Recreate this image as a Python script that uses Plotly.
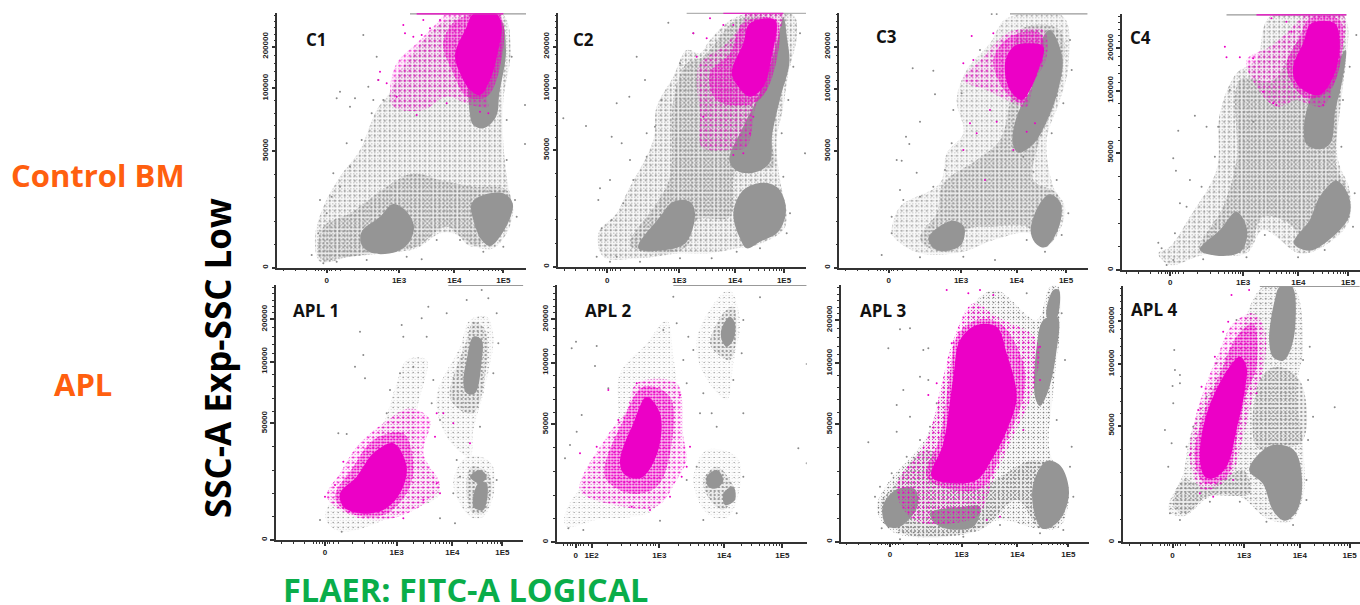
import math
import plotly.graph_objects as go

W, H = 1360, 605
GRAY, MAG = "#959595", "#ec00c6"

# Population outlines and sparse events in acquisition channels.
# Each outline is a list of (x channel, y channel); one panel may have several outlines.
C1_SPARSE = [[(225,715),(250,620),(300,530),(360,450),(410,330),(455,270),(470,230),(560,110),(620,60),(700,45),(790,45),(812,150),(790,300),(790,430),(805,560),(820,630),(800,700),(760,745),(720,745),(640,700),(600,700),(530,745),(430,760),(330,770),(240,785)]]
C1_MID = [[(250,680),(330,640),(440,560),(520,520),(600,540),(700,560),(800,570),(810,640),(700,740),(620,680),(530,740),(430,755),(330,770),(240,775)]]
C1_CORE = [[(365,695),(420,650),(460,612),(500,635),(522,680),(505,730),(470,755),(400,760),(365,735)],
           [(695,610),(730,585),(790,580),(818,610),(810,655),(780,710),(750,738),(725,720),(700,660)],
           [(690,345),(700,120),(780,60),(798,150),(778,280),(768,350),(730,385),(700,375)]]
C1_MAG_SPARSE = [[(450,270),(470,190),(530,130),(590,70),(620,42),(780,42),(790,80),(775,200),(740,290),(745,320),(690,315),(620,290),(550,330),(460,320)]]
C1_MAG_MID = [[(610,130),(650,60),(780,50),(780,200),(740,290),(680,290),(640,220)]]
C1_MAG_CORE = [[(645,165),(680,80),(700,42),(770,42),(785,80),(775,150),(750,240),(720,285),(690,270),(660,220)]]
C1_DOTS = [(370,105),(300,275),(290,295),(385,260),(345,295),(330,320),(855,315),(855,432),(215,765),(545,778),(415,240),(410,170),(240,600),(280,520),(320,430),(400,300),(235,700),(260,640),(275,590),(300,560),(330,500),(365,420),(395,340),(430,300),(815,170),(800,360),(800,480),(825,600),(830,650),(790,740),(730,755),(660,720),(590,720),(500,770),(380,780),(290,785),(250,790)]
C1_MAG_DOTS = [(490,75),(495,100),(520,110),(545,105),(550,60),(570,85),(420,215),(440,250),(470,290),(530,345),(620,310),(720,335),(745,340),(600,60),(415,240)]
C1_TOP = [(510,858)]
C1_MAG_TOP = [(530,790)]

C2_SPARSE = [[(205,700),(260,640),(290,580),(370,420),(380,320),(430,230),(470,150),(510,160),(540,120),(620,50),(790,45),(800,110),(775,220),(760,320),(740,420),(750,540),(770,640),(760,690),(680,735),(620,745),(540,760),(450,760),(330,775),(220,770)]]
C2_MID = [[(300,735),(380,610),(420,530),(430,300),(470,190),(520,170),(620,60),(720,60),(720,400),(730,500),(620,510),(600,650),(500,660),(470,740),(380,760)]]
C2_CORE = [[(325,745),(390,650),(430,605),(480,605),(495,640),(470,725),(420,748)],
           [(610,640),(640,570),(700,548),(745,565),(768,630),(745,695),(690,725),(650,745),(630,715)],
           [(598,480),(640,380),(680,300),(720,200),(745,110),(760,50),(772,120),(778,190),(752,290),(727,400),(718,490),(670,518),(620,512)]]
C2_MAG_SPARSE = [[(500,240),(510,190),(590,130),(640,60),(650,40),(760,40),(735,130),(710,270),(680,310),(650,440),(600,450),(515,440),(510,340)]]
C2_MAG_MID = [[(540,220),(600,160),(640,70),(740,60),(720,250),(670,310),(560,300)]]
C2_MAG_CORE = [[(605,220),(640,130),(660,70),(735,60),(725,170),(700,260),(660,290),(625,260)]]
C2_DOTS = [(100,355),(168,378),(415,68),(260,310),(320,170),(298,290),(345,240),(490,100),(245,410),(275,430),(210,565),(240,540),(200,770),(825,460),(205,600),(300,480),(350,400),(260,770),(215,685),(245,660),(280,610),(310,540),(350,470),(375,380),(395,300),(450,190),(810,100),(790,200),(775,300),(755,400),(760,530),(780,640),(770,700),(690,745),(620,755),(545,775),(450,775),(330,785),(240,785)]
C2_MAG_DOTS = [(490,100),(540,55),(580,75),(610,75),(530,115),(500,170),(640,460),(610,465),(520,350),(660,400),(670,350)]
C2_TOP = [(470,828)]
C2_MAG_TOP = [(580,760)]

C3_SPARSE = [[(215,690),(240,620),(360,550),(380,460),(430,400),(410,300),(440,210),(510,130),(560,55),(730,50),(745,200),(720,300),(680,420),(700,560),(735,620),(715,700),(670,745),(630,700),(520,720),(430,755),(300,760),(220,710)]]
C3_MID = [[(300,715),(350,640),(370,550),(470,480),(540,420),(570,300),(600,90),(720,90),(720,260),(650,450),(640,540),(710,580),(725,630),(700,720),(660,740),(620,680),(520,680),(440,690),(420,745),(340,750)]]
C3_CORE = [[(325,715),(360,678),(400,662),(432,680),(425,732),(385,752),(345,748)],
           [(632,690),(660,610),(690,583),(722,610),(717,680),(675,742),(645,728)],
           [(578,430),(590,350),(640,250),(670,110),(690,90),(727,170),(717,260),(682,360),(640,432),(595,458)]]
C3_MAG_SPARSE = [[(430,240),(490,170),(530,125),(570,95),(670,90),(680,170),(640,250),(620,320),(560,300),(500,270)]]
C3_MAG_MID = [[(520,180),(570,110),(660,100),(670,170),(630,260),(610,310),(560,280)]]
C3_MAG_CORE = [[(555,190),(580,140),(620,130),(670,140),(655,210),(630,270),(605,300),(570,270)]]
C3_DOTS = [(278,205),(340,212),(345,283),(300,365),(258,410),(268,432),(230,480),(245,482),(290,518),(240,570),(215,650),(185,765),(525,780),(515,42),(530,42),(640,515),(610,470),(250,600),(300,590),(340,560),(375,510),(395,430),(400,330),(425,280),(480,150),(750,120),(755,210),(730,310),(695,400),(710,540),(745,640),(725,705),(675,755),(620,720),(430,770),(300,772),(215,700)]
C3_MAG_DOTS = [(455,108),(520,100),(450,370),(470,400),(495,540),(430,450),(430,190),(460,180),(510,330),(530,365),(645,370),(620,395),(580,450)]
C3_TOP = [(570,803)]
C3_MAG_TOP = []

C4_SPARSE = [[(205,760),(240,740),(300,650),(380,510),(390,340),(440,220),(500,180),(540,50),(760,45),(770,180),(745,320),(745,480),(780,570),(775,670),(700,740),(630,760),(520,690),(470,760),(340,765),(240,795)]]
C4_MID = [[(330,750),(400,620),(440,480),(450,240),(550,240),(640,110),(750,110),(740,500),(770,560),(770,670),(640,750),(610,680),(520,650),(470,750)]]
C4_CORE = [[(330,750),(390,690),(440,635),(472,690),(455,752),(400,768)],
           [(612,730),(660,660),(690,590),(740,542),(778,590),(778,650),(720,718),(660,752)],
           [(648,430),(660,300),(730,210),(768,150),(758,240),(737,330),(722,430),(690,448)]]
C4_MAG_SPARSE = [[(470,180),(540,140),(590,100),(650,45),(760,45),(755,170),(730,260),(700,320),(650,310),(620,300),(560,320),(500,260)]]
C4_MAG_MID = [[(590,200),(630,110),(660,55),(750,60),(755,170),(720,270),(650,295)]]
C4_MAG_CORE = [[(610,200),(640,130),(665,70),(735,70),(750,130),(735,220),(690,285),(640,270),(615,240)]]
C4_DOTS = [(265,392),(315,347),(250,475),(258,512),(350,380),(300,540),(270,610),(205,728),(800,105),(490,365),(230,795),(215,745),(255,700),(290,620),(335,560),(375,470),(385,380),(420,270),(780,200),(760,300),(755,440),(795,580),(790,680),(705,750),(625,772),(525,705),(470,772),(340,778),(250,780)]
C4_MAG_DOTS = [(405,140),(410,172),(545,55),(590,65),(605,95),(550,310),(520,275),(490,175),(450,172),(560,315),(700,315),(720,290)]
C4_TOP = [(410,770)]
C4_MAG_TOP = [(500,770)]

A1_SPARSE = [[(255,710),(290,640),(360,540),(430,430),(470,310),(500,240),(560,240),(530,400),(540,520),(600,640),(480,700),(300,755)],
             [(590,350),(660,200),(690,120),(740,110),(760,170),(735,320),(700,450),(690,530),(620,470)],
             [(640,610),(680,530),(750,545),(765,620),(730,710),(690,710)]]
A1_MID = [[(630,350),(680,180),(700,125),(735,150),(735,290),(700,400),(660,390)],
          [(680,600),(695,560),(745,580),(755,630),(730,700),(695,695)]]
A1_CORE = [[(680,240),(700,170),(725,180),(725,240),(705,340),(680,340),(670,310)],
           [(700,680),(715,610),(740,610),(730,690)],
           [(690,590),(720,570),(740,590),(720,610)]]
A1_MAG_SPARSE = [[(260,650),(300,580),(350,500),(430,430),(510,385),(570,420),(550,520),(600,620),(540,680),(430,720),(330,705)]]
A1_MAG_MID = [[(285,650),(340,560),(400,480),(490,460),(520,560),(500,640),(430,705),(320,695)]]
A1_MAG_CORE = [[(300,640),(350,590),(400,520),(460,490),(500,560),(480,640),(430,690),(360,700),(310,680)]]
A1_DOTS = [(360,155),(370,225),(345,260),(375,295),(295,460),(320,462),(485,135),(490,170),(545,115),(565,80),(620,100),(680,60),(725,30),(745,55),(770,100),(240,720),(305,755),(645,730),(600,715),(560,170),(450,330),(440,400),(480,280),(520,260),(580,300),(575,370),(600,420),(775,190),(760,280),(720,440),(640,640),(770,600),(650,540),(660,590)]
A1_MAG_DOTS = [(255,650),(285,615),(310,545),(590,610),(600,640),(590,400),(640,430),(690,490),(585,470),(610,400),(550,660),(490,715)]
A1_TOP = [(625,850)]
A1_MAG_TOP = []

A2_SPARSE = [[(105,700),(180,580),(260,440),(270,280),(350,190),(410,120),(430,230),(440,320),(430,540),(370,690),(200,720),(110,740)],
             [(500,180),(560,60),(600,30),(630,120),(610,250),(590,360),(520,280)],
             [(490,600),(530,510),(620,530),(630,620),(590,715),(530,700)]]
A2_MID = [[(540,190),(580,100),(610,80),(620,160),(600,240),(560,220)],
          [(520,600),(560,560),(600,600),(615,640),(580,690),(540,660)]]
A2_CORE = [[(575,145),(600,110),(615,130),(610,180),(590,200),(575,180)],
           [(530,590),(560,570),(580,600),(560,625),(535,620)],
           [(580,640),(610,620),(615,660),(585,675)]]
A2_MAG_SPARSE = [[(150,630),(230,470),(290,390),(320,310),(440,310),(460,470),(470,540),(440,600),(380,680),(230,670)]]
A2_MAG_MID = [[(225,590),(280,420),(340,320),(420,350),(420,520),(380,620),(300,640)]]
A2_MAG_CORE = [[(270,540),(310,430),(350,350),(390,400),(385,510),(340,590),(310,595),(280,580)]]
A2_DOTS = [(125,205),(138,185),(200,198),(195,258),(140,455),(155,405),(105,535),(120,495),(235,325),(430,50),(640,400),(690,52),(830,252),(830,550),(805,505),(470,310),(510,400),(560,440),(475,170),(115,745),(160,750),(390,722),(460,240),(490,210),(440,130),(400,150),(520,340),(545,400),(610,300),(635,220),(640,120),(500,560),(470,600),(640,590),(620,700),(520,720)]
A2_MAG_DOTS = [(150,520),(200,500),(265,420),(235,330),(320,310),(450,345),(480,500),(455,590),(420,650),(360,690),(305,680),(470,560)]
A2_TOP = [(430,830)]
A2_MAG_TOP = []

A3_SPARSE = [[(170,680),(210,600),(320,470),(375,300),(410,200),(470,60),(530,30),(650,120),(690,20),(715,20),(720,140),(700,330),(690,520),(745,620),(720,740),(650,745),(540,720),(430,760),(240,765),(190,730)]]
A3_MID = [[(180,680),(220,620),(320,510),(460,620),(640,540),(700,560),(745,640),(710,735),(660,745),(590,660),(480,750),(250,760)]]
A3_CORE = [[(188,680),(230,628),(285,628),(292,680),(240,740),(200,738)],
           [(638,620),(680,543),(722,558),(747,640),(717,722),(670,747),(650,722)],
           [(645,350),(650,200),(670,120),(712,110),(707,230),(682,340),(660,378)],
           [(330,700),(430,680),(480,680),(460,740),(360,740)],
           [(680,110),(700,30),(717,30),(707,120)]]
A3_MAG_SPARSE = [[(230,620),(320,480),(370,290),(400,180),(460,70),(530,110),(650,180),(640,330),(570,490),(520,600),(480,700),(450,720),(280,720)]]
A3_MAG_MID = [[(320,590),(360,470),(390,280),(410,170),(470,120),(540,130),(610,250),(610,350),(550,500),(490,620),(400,630)]]
A3_MAG_CORE = [[(335,590),(370,490),(400,290),(420,180),(470,135),(530,140),(560,220),(590,350),(565,440),(520,530),(470,600),(400,610)]]
A3_DOTS = [(145,487),(205,205),(240,148),(270,145),(310,210),(325,205),(230,375),(250,330),(300,290),(325,300),(270,410),(755,500),(620,40),(230,455),(165,650),(180,620),(215,580),(260,530),(300,480),(330,440),(350,370),(725,100),(735,240),(710,420),(750,560),(760,650),(730,750),(660,760),(540,735),(430,770),(240,778),(185,745)]
A3_MAG_DOTS = [(445,40),(480,30),(380,30),(520,45),(350,310),(325,345),(395,190),(660,200),(660,300),(610,450),(540,710),(500,720)]
A3_TOP = []
A3_MAG_TOP = []

A4_SPARSE = [[(235,690),(280,580),(300,470),(380,280),(450,150),(520,20),(610,20),(640,200),(620,330),(640,500),(640,650),(600,725),(530,715),(450,650),(360,650),(280,710)]]
A4_MID = [[(250,680),(280,600),(350,620),(460,570),(480,640),(350,650),(290,700)],
          [(500,500),(510,300),(560,260),(630,300),(640,480),(560,510)]]
A4_CORE = [[(538,180),(555,60),(570,20),(607,20),(617,130),(602,210),(580,242),(550,232)],
           [(478,570),(540,498),(612,510),(637,600),(622,692),(585,722),(550,692),(520,612)]]
A4_MAG_SPARSE = [[(300,540),(320,400),(390,210),(430,130),(490,100),(525,150),(520,270),(490,350),(460,470),(420,590),(340,630)]]
A4_MAG_MID = [[(315,540),(335,420),(395,270),(440,170),(490,130),(500,260),(470,340),(440,480),(410,590),(345,610)]]
A4_MAG_CORE = [[(330,540),(345,420),(400,290),(450,230),(470,260),(465,330),(440,450),(410,560),(370,595),(345,590)]]
A4_DOTS = [(253,210),(255,270),(270,285),(270,310),(248,318),(250,370),(225,450),(235,560),(245,490),(670,410),(735,382),(660,200),(640,240),(240,700),(270,720),(290,500),(310,440),(350,350),(380,250),(440,120),(510,40),(655,300),(655,480),(650,600),(650,660),(610,735),(530,725),(450,665),(360,665)]
A4_MAG_DOTS = [(425,45),(478,30),(415,125),(400,155),(375,230),(335,320),(325,390),(300,525),(330,640),(370,650),(430,600),(500,340)]
A4_TOP = [(510,810)]
A4_MAG_TOP = []

PANEL_NAMES = ["C1", "C2", "C3", "C4", "APL 1", "APL 2", "APL 3", "APL 4"]
X_TICK_LABELS = [["0","1E3","1E4","1E5"]] * 5 + [["0","1E2","1E3","1E4","1E5"]] + [["0","1E3","1E4","1E5"]] * 2
X_TICK_CH = [[260,477,643,790],[232,448,615,762],[206,423,590,738],[241,460,626,775],
             [255,470,637,787],[137,185,388,582,757],[210,425,592,745],[248,463,630,780]]
Y_TICK_LABELS = ["0", "50000", "100000", "200000"]
Y_TICK_CH = [[803,453,265,140],[800,450,265,140],[803,453,268,140],[810,458,272,145],
             [780,430,245,118],[787,433,248,118],[785,433,250,120],[787,437,252,123]]
ORIGIN = [(240,0),(530,0),(820,0),(1090,0),(240,280),(530,280),(820,280),(1090,280)]
X_SPAN = [(112,858),(85,828),(58,803),(95,811),(107,850),(80,830),(63,808),(100,811)]
Y_SPAN = [(803,40),(802,38),(803,40),(810,43),(780,15),(787,15),(785,15),(787,18)]
LABEL_CH = [(230,118),(160,118),(200,110),(152,112),(228,92),(235,92),(190,92),(192,90)]

SPARSE = [C1_SPARSE,C2_SPARSE,C3_SPARSE,C4_SPARSE,A1_SPARSE,A2_SPARSE,A3_SPARSE,A4_SPARSE]
MID = [C1_MID,C2_MID,C3_MID,C4_MID,A1_MID,A2_MID,A3_MID,A4_MID]
CORE = [C1_CORE,C2_CORE,C3_CORE,C4_CORE,A1_CORE,A2_CORE,A3_CORE,A4_CORE]
MAG_SPARSE = [C1_MAG_SPARSE,C2_MAG_SPARSE,C3_MAG_SPARSE,C4_MAG_SPARSE,A1_MAG_SPARSE,A2_MAG_SPARSE,A3_MAG_SPARSE,A4_MAG_SPARSE]
MAG_MID = [C1_MAG_MID,C2_MAG_MID,C3_MAG_MID,C4_MAG_MID,A1_MAG_MID,A2_MAG_MID,A3_MAG_MID,A4_MAG_MID]
MAG_CORE = [C1_MAG_CORE,C2_MAG_CORE,C3_MAG_CORE,C4_MAG_CORE,A1_MAG_CORE,A2_MAG_CORE,A3_MAG_CORE,A4_MAG_CORE]
DOTS = [C1_DOTS,C2_DOTS,C3_DOTS,C4_DOTS,A1_DOTS,A2_DOTS,A3_DOTS,A4_DOTS]
MAG_DOTS = [C1_MAG_DOTS,C2_MAG_DOTS,C3_MAG_DOTS,C4_MAG_DOTS,A1_MAG_DOTS,A2_MAG_DOTS,A3_MAG_DOTS,A4_MAG_DOTS]
TOP = [C1_TOP,C2_TOP,C3_TOP,C4_TOP,A1_TOP,A2_TOP,A3_TOP,A4_TOP]
MAG_TOP = [C1_MAG_TOP,C2_MAG_TOP,C3_MAG_TOP,C4_MAG_TOP,A1_MAG_TOP,A2_MAG_TOP,A3_MAG_TOP,A4_MAG_TOP]

# how thickly the sparse gray events lie in each panel
HALO_STRENGTH = [1.0, 1.1, 0.9, 1.0, 0.5, 0.45, 0.9, 0.9]

def flat(polys):
    xs, ys = [], []
    for p in polys:
        xs += [q[0] for q in p] + [p[0][0], None]
        ys += [q[1] for q in p] + [p[0][1], None]
    return xs, ys

def area(polys, ax, color, pattern=None, fillcolor=None):
    xs, ys = flat(polys)
    t = dict(x=xs, y=ys, xaxis="x"+ax, yaxis="y"+ax, mode="lines", fill="toself",
             line=dict(width=0, color=color, shape="spline", smoothing=1), hoverinfo="skip", showlegend=False)
    t["fillcolor"] = fillcolor or color
    if pattern:
        t["fillcolor"] = "rgba(0,0,0,0)"
        t["fillpattern"] = dict(shape=".", size=pattern[0], solidity=pattern[1], fgcolor=color,
                                bgcolor="rgba(255,255,255,0)", fillmode="replace")
    return go.Scatter(**t)

def x_minor(ticks):
    z = ticks[0]
    out = [z+d for d in (-130,-95,-60,-35,-25,-15,-8,8,15,25,40)]
    hi = ticks[-3:]
    out += [z + (hi[0]-z)*f for f in (0.38,0.55,0.66,0.74,0.8,0.85,0.89,0.93,0.96)]
    for a, b in zip(hi[:-1], hi[1:]):
        out += [a + (b-a)*math.log10(k) for k in range(2,10)]
    return out

def y_minor(t):
    z, a, b, c = t
    out = [z + (a-z)*f/5 for f in range(1,5)]
    out += [a + (b-a)*f/5 for f in range(1,5)]
    out += [b + (c-b)*f/5 for f in range(1,5)]
    out += [c - (b-c)*0.15*f for f in range(1,6)]
    return out

fig = go.Figure()
layout = {}
TICK_FONT = dict(family="Liberation Sans", size=8, color="#222222")
for i in range(8):
    ax = "" if i == 0 else str(i+1)
    k = HALO_STRENGTH[i]
    fig.add_trace(area(SPARSE[i], ax, "#888888", None, "rgba(150,150,150,%.3f)" % (0.07*k)))
    fig.add_trace(area(SPARSE[i], ax, "#7f7f7f", (3, 0.09*k)))
    fig.add_trace(area(SPARSE[i], ax, "#7f7f7f", (5, 0.10*k)))
    fig.add_trace(area(MID[i], ax, "#888888", None, "rgba(150,150,150,0.14)"))
    fig.add_trace(area(MID[i], ax, "#858585", (4, 0.2)))
    fig.add_trace(area(CORE[i], ax, GRAY))
    fig.add_trace(go.Scatter(x=[d[0] for d in DOTS[i]], y=[d[1] for d in DOTS[i]], xaxis="x"+ax, yaxis="y"+ax,
                             mode="markers", marker=dict(size=2, color="#8a8a8a"), hoverinfo="skip", showlegend=False))
    fig.add_trace(area(MAG_SPARSE[i], ax, MAG, None, "rgba(236,0,198,0.05)"))
    fig.add_trace(area(MAG_SPARSE[i], ax, MAG, (3, 0.08)))
    fig.add_trace(area(MAG_SPARSE[i], ax, MAG, (5, 0.14)))
    fig.add_trace(area(MAG_MID[i], ax, MAG, None, "rgba(236,0,198,0.22)"))
    fig.add_trace(area(MAG_MID[i], ax, MAG, (3, 0.32)))
    fig.add_trace(area(MAG_CORE[i], ax, MAG))
    fig.add_trace(go.Scatter(x=[d[0] for d in MAG_DOTS[i]], y=[d[1] for d in MAG_DOTS[i]], xaxis="x"+ax, yaxis="y"+ax,
                             mode="markers", marker=dict(size=2, color=MAG), hoverinfo="skip", showlegend=False))
    y_top = min(Y_SPAN[i])
    for seg, col, wd in ((TOP[i], "#999999", 1.5), (MAG_TOP[i], MAG, 1.5)):
        for a, b in seg:
            fig.add_trace(go.Scatter(x=[a,b], y=[y_top+1,y_top+1], xaxis="x"+ax, yaxis="y"+ax, mode="lines",
                                     line=dict(color=col, width=wd), hoverinfo="skip", showlegend=False))
    ox, oy = ORIGIN[i]
    xa, xb = X_SPAN[i]
    yb, yt = Y_SPAN[i]
    x0, x1 = (ox+xa/3)/W, min(1, (ox+xb/3)/W)
    y0, y1 = 1-(oy+yb/3)/H, 1-(oy+yt/3)/H
    common = dict(showgrid=False, zeroline=False, showline=True, linecolor="#333333", linewidth=1.5,
                  ticks="outside", ticklen=4, tickwidth=1.5, tickcolor="#333333", tickmode="array", tickfont=TICK_FONT)
    layout["xaxis"+ax] = dict(common, domain=[x0,x1], range=[xa,xb], anchor="y"+ax,
                              tickvals=X_TICK_CH[i], ticktext=["<b>%s</b>" % s for s in X_TICK_LABELS[i]],
                              minor=dict(tickmode="array", tickvals=x_minor(X_TICK_CH[i]), ticks="outside", ticklen=2, tickwidth=1, tickcolor="#333333"))
    layout["yaxis"+ax] = dict(common, domain=[y0,y1], range=[yb,yt], anchor="x"+ax, tickangle=-90,
                              tickvals=Y_TICK_CH[i], ticktext=["<b>%s</b>" % s for s in Y_TICK_LABELS],
                              minor=dict(tickmode="array", tickvals=y_minor(Y_TICK_CH[i]), ticks="outside", ticklen=2, tickwidth=1, tickcolor="#333333"))

annots = []
for i, name in enumerate(PANEL_NAMES):
    ax = "" if i == 0 else str(i+1)
    annots.append(dict(text="<b>%s</b>" % name, x=LABEL_CH[i][0], y=LABEL_CH[i][1], xref="x"+ax, yref="y"+ax,
                       showarrow=False, font=dict(family="Open Sans", size=17, color="#111111")))
def page(text, x, y, size, color, angle=0):
    annots.append(dict(text="<b>%s</b>" % text, x=x/W, y=1-y/H, xref="paper", yref="paper", showarrow=False,
                       xanchor="center", yanchor="middle", textangle=angle, font=dict(family="Open Sans", size=size, color=color)))
page("Control BM", 98, 175, 31, "#ff5f0f")
page("APL", 83, 384, 31, "#ff5f0f")
page("SSC-A Exp-SSC Low", 217, 358, 35, "#000000", -90)
page("FLAER: FITC-A LOGICAL", 465, 589, 32.5, "#0aad4a")

fig.update_layout(width=W, height=H, margin=dict(l=0,r=0,t=0,b=0), paper_bgcolor="white", plot_bgcolor="white",
                  showlegend=False, annotations=annots, **layout)
fig.write_html("out.html", config=dict(displayModeBar=False),
               post_script="document.body.style.margin='0';document.documentElement.style.overflow='hidden';")
